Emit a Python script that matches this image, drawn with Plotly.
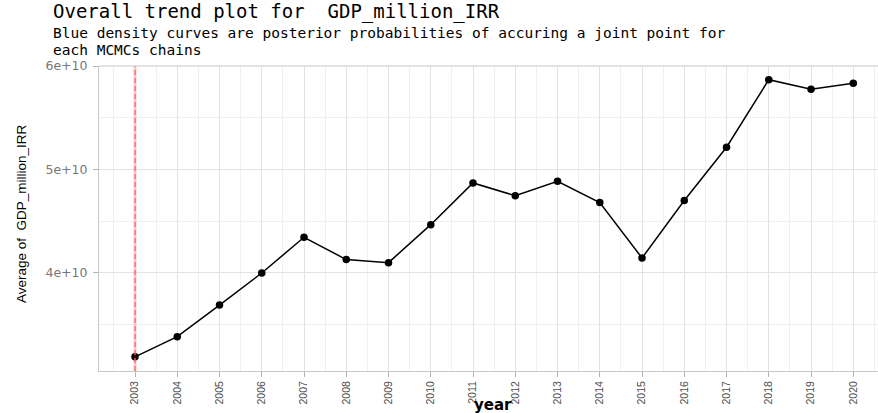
import plotly.graph_objects as go

# Yearly average GDP (million IRR)
years = [2003, 2004, 2005, 2006, 2007, 2008, 2009, 2010, 2011,
         2012, 2013, 2014, 2015, 2016, 2017, 2018, 2019, 2020]
gdp_avg = [3.19e10, 3.385e10, 3.69e10, 4.00e10, 4.345e10, 4.13e10, 4.10e10, 4.467e10, 4.87e10,
           4.747e10, 4.886e10, 4.68e10, 4.145e10, 4.70e10, 5.215e10, 5.868e10, 5.775e10, 5.833e10]

# Detected joint point(s)
joint_points = [2003]

y_tickvals = [4e10, 5e10, 6e10]
y_ticktext = ["4e+10", "5e+10", "6e+10"]
y_minor = [3.5e10, 4.5e10, 5.5e10]
x_minor = [y + 0.5 for y in range(2002, 2021)]

title_text = "Overall trend plot for \u00a0GDP_million_IRR"
subtitle_lines = ["Blue density curves are posterior probabilities of accuring a joint point for",
                  "each MCMCs chains"]
y_title = "Average of \u00a0GDP_million_IRR"
x_title = "year"

W, H = 878, 413
L, R, T, B = 99, 0, 66, 42
x_range = [2002.148, 2020.585]
y_range = [3.053e10, 6.0e10]

HEAD = "DejaVu Sans Mono, monospace"
SANS = "Liberation Sans, Arial, sans-serif"
WIDE = "DejaVu Sans, sans-serif"

fig = go.Figure()

# Joint point markers: soft halo plus dashed line
for jp in joint_points:
    fig.add_shape(type="line", xref="x", yref="paper", x0=jp, x1=jp, y0=0, y1=1,
                  line=dict(color="rgba(255,0,0,0.15)", width=3.5), layer="above")
    fig.add_shape(type="line", xref="x", yref="paper", x0=jp, x1=jp, y0=0, y1=1,
                  line=dict(color="rgba(255,100,100,0.85)", width=1.5, dash="5px,3px"), layer="above")

fig.add_trace(go.Scatter(
    x=years, y=gdp_avg, mode="lines+markers",
    line=dict(color="black", width=1.5),
    marker=dict(color="black", size=7.5),
    showlegend=False, hoverinfo="x+y",
))

# Panel top border
fig.add_shape(type="line", xref="paper", yref="paper", x0=0, x1=1, y0=1, y1=1,
              line=dict(color="#C8C8C8", width=1))

grid_major = "#E3E3E3"
grid_minor = "#F0F0F0"

fig.update_xaxes(
    range=x_range, tickmode="array", tickvals=years, ticktext=[str(y) for y in years],
    tickangle=-90, tickfont=dict(family=SANS, size=10.5, color="#4D4D4D"),
    ticks="outside", ticklen=5, tickcolor="#B3B3B3",
    showgrid=True, gridcolor=grid_major, gridwidth=1,
    minor=dict(tickvals=x_minor, showgrid=True, gridcolor=grid_minor, gridwidth=1, ticks=""),
    showline=True, linecolor="#C8C8C8", linewidth=1,
    zeroline=False, fixedrange=True,
)
fig.update_yaxes(
    range=y_range, tickmode="array", tickvals=y_tickvals, ticktext=y_ticktext,
    tickfont=dict(family=WIDE, size=12.5, color="#777777"),
    ticks="outside", ticklen=5, tickcolor="#B3B3B3", ticklabelstandoff=3,
    showgrid=True, gridcolor=grid_major, gridwidth=1,
    minor=dict(tickvals=y_minor, showgrid=True, gridcolor=grid_minor, gridwidth=1, ticks=""),
    showline=True, linecolor="#C8C8C8", linewidth=1,
    zeroline=False, fixedrange=True,
)

def px_to_paper_x(px):
    return (px - L) / (W - L - R)

def px_to_paper_y(py):
    return 1 - (py - T) / (H - T - B)

annotations = [
    dict(text=title_text, x=px_to_paper_x(51), y=px_to_paper_y(12), xanchor="left", yanchor="middle",
         font=dict(family=HEAD, size=19, color="black")),
    dict(text=subtitle_lines[0], x=px_to_paper_x(51), y=px_to_paper_y(33), xanchor="left", yanchor="middle",
         font=dict(family=HEAD, size=14.5, color="black")),
    dict(text=subtitle_lines[1], x=px_to_paper_x(51), y=px_to_paper_y(50.5), xanchor="left", yanchor="middle",
         font=dict(family=HEAD, size=14.5, color="black")),
    dict(text=y_title, x=px_to_paper_x(21), y=px_to_paper_y(214), xanchor="center", yanchor="middle",
         textangle=-90, font=dict(family=SANS, size=13.5, color="black")),
    dict(text="<b>" + x_title + "</b>", x=px_to_paper_x(493), y=px_to_paper_y(405), xanchor="center",
         yanchor="middle", font=dict(family=WIDE, size=15, color="black")),
]
for a in annotations:
    a.update(xref="paper", yref="paper", showarrow=False)

fig.update_layout(
    width=W, height=H,
    margin=dict(l=L, r=R, t=T, b=B, pad=0),
    paper_bgcolor="white", plot_bgcolor="white",
    annotations=annotations,
    hovermode="closest",
)

fig.write_html("out.html")
